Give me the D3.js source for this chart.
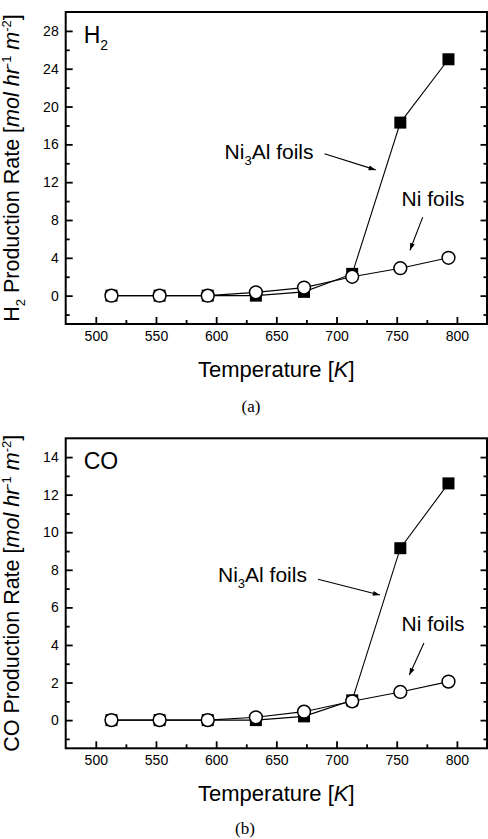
<!DOCTYPE html>
<html>
<head>
<meta charset="utf-8">
<script src="https://cdn.jsdelivr.net/npm/d3@7/dist/d3.min.js"></script>
<style>
	body{margin:0;background:#fff;}
	svg text{font-family:"Liberation Sans",Arial,sans-serif;fill:#000;}
</style>
</head>
<body>
<div id="chart"></div>
<script>
// data
var temps = [513, 553, 593, 633, 673, 713, 753, 793];
var h2Ni3Al = [0, 0, 0, 0, 0.4, 2.3, 18.3, 25.0];
var h2Ni = [0, 0, 0, 0.35, 0.85, 2.0, 2.9, 4.0];
var coNi3Al = [0, 0, 0, 0, 0.2, 1.05, 9.15, 12.6];
var coNi = [0, 0, 0, 0.15, 0.45, 1.0, 1.5, 2.05];

var xTicks = [500, 550, 600, 650, 700, 750, 800];
var xMinor = [525, 575, 625, 675, 725, 775];
var h2Ticks = [0, 4, 8, 12, 16, 20, 24, 28];
var h2Minor = [-2, 2, 6, 10, 14, 18, 22, 26];
var coTicks = [0, 2, 4, 6, 8, 10, 12, 14];
var coMinor = [-1, 1, 3, 5, 7, 9, 11, 13];

var W = 488, H = 839;
var frameL = 65.7, frameR = 487;

var svg = d3.select("#chart").append("svg")
	.attr("width", W).attr("height", H);

svg.append("defs").append("marker")
	.attr("id", "arrow")
	.attr("markerUnits", "userSpaceOnUse")
	.attr("viewBox", "0 0 10 10")
	.attr("refX", 10).attr("refY", 5)
	.attr("markerWidth", 9).attr("markerHeight", 7)
	.attr("orient", "auto")
	.append("path")
	.attr("d", "M0,1.5 L10,5 L0,8.5 Z")
	.attr("fill", "#000");

var panels = [
	{
		top: 12, bottom: 324,
		yDomain: [-3, 30], yTicks: h2Ticks, yMinor: h2Minor,
		ni3al: h2Ni3Al, ni: h2Ni,
		speciesLabel: [["H",""],["2","sub"]],
		caption: "(a)", captionX: 251, captionY: 412,
		// annotation anchors in data units
		ni3alText: [607, 14.4], ni3alArrow: [[690, 15.0], [732.5, 13.3]],
		niText: [754, 9.5], niArrow: [[771.6, 8.3], [761, 4.8]]
	},
	{
		top: 438.3, bottom: 748.3,
		yDomain: [-1.5, 15], yTicks: coTicks, yMinor: coMinor,
		ni3al: coNi3Al, ni: coNi,
		speciesLabel: [["CO",""]],
		caption: "(b)", captionX: 245, captionY: 834,
		ni3alText: [601.5, 7.34], ni3alArrow: [[684.6, 7.5], [736, 6.66]],
		niText: [754, 4.76], niArrow: [[772.6, 4.1], [760.5, 2.4]]
	}
];

function drawPanel(p){
	var x = d3.scaleLinear().domain([475, 825]).range([frameL, frameR]);
	var y = d3.scaleLinear().domain(p.yDomain).range([p.bottom, p.top]);
	var g = svg.append("g");

	function axis(gen, tx, ty, vals, size, labels){
		var a = g.append("g")
			.attr("transform", "translate(" + tx + "," + ty + ")")
			.call(gen.tickValues(vals).tickSize(size).tickPadding(7)
				.tickFormat(labels ? d3.format("d") : ""));
		a.select(".domain").remove();
		a.selectAll("line").attr("stroke", "#000").attr("stroke-width", 1.8);
		a.selectAll("text").style("font-size", "14px").style("font-family", "'Liberation Sans',Arial,sans-serif");
		return a;
	}
	axis(d3.axisBottom(x), 0, p.bottom, xTicks, -7, true);
	axis(d3.axisBottom(x), 0, p.bottom, xMinor, -4, false);
	axis(d3.axisLeft(y), frameL, 0, p.yTicks, -7, true);
	axis(d3.axisLeft(y), frameL, 0, p.yMinor, -4, false);
	axis(d3.axisRight(y), frameR, 0, p.yTicks, -6.5, false);
	axis(d3.axisRight(y), frameR, 0, p.yMinor, -3.5, false);

	g.append("rect")
		.attr("x", frameL).attr("y", p.top)
		.attr("width", frameR - frameL).attr("height", p.bottom - p.top)
		.attr("fill", "none").attr("stroke", "#000").attr("stroke-width", 2);

	var line = d3.line().x(function(d){ return x(d[0]); }).y(function(d){ return y(d[1]); });
	var sq = d3.zip(temps, p.ni3al), ci = d3.zip(temps, p.ni);

	g.append("path").datum(sq).attr("d", line)
		.attr("fill", "none").attr("stroke", "#000").attr("stroke-width", 1.1);
	g.append("path").datum(ci).attr("d", line)
		.attr("fill", "none").attr("stroke", "#000").attr("stroke-width", 1.1);

	g.selectAll("rect.sq").data(sq).enter().append("rect")
		.attr("class", "sq")
		.attr("x", function(d){ return x(d[0]) - 6; })
		.attr("y", function(d){ return y(d[1]) - 6; })
		.attr("width", 12).attr("height", 12)
		.attr("fill", "#000");
	g.selectAll("circle").data(ci).enter().append("circle")
		.attr("cx", function(d){ return x(d[0]); })
		.attr("cy", function(d){ return y(d[1]); })
		.attr("r", 6.4)
		.attr("fill", "#fff").attr("stroke", "#000").attr("stroke-width", 1.5);

	// species tag
	var tag = g.append("text")
		.attr("x", frameL + 18).attr("y", p.top + 31)
		.style("font-size", "23px");
	p.speciesLabel.forEach(function(s){
		if (s[1] == "sub") tag.append("tspan").text(s[0]).attr("dy", 7).style("font-size", "14px");
		else tag.append("tspan").text(s[0]);
	});

	// annotations
	var t1 = g.append("text")
		.attr("x", x(p.ni3alText[0])).attr("y", y(p.ni3alText[1]))
		.style("font-size", "21px");
	t1.append("tspan").text("Ni");
	t1.append("tspan").text("3").attr("dy", 6).style("font-size", "13px");
	t1.append("tspan").text("Al foils").attr("dy", -6);
	g.append("line")
		.attr("x1", x(p.ni3alArrow[0][0])).attr("y1", y(p.ni3alArrow[0][1]))
		.attr("x2", x(p.ni3alArrow[1][0])).attr("y2", y(p.ni3alArrow[1][1]))
		.attr("stroke", "#000").attr("stroke-width", 1.1)
		.attr("marker-end", "url(#arrow)");
	g.append("text")
		.attr("x", x(p.niText[0])).attr("y", y(p.niText[1]))
		.style("font-size", "21px")
		.text("Ni foils");
	g.append("line")
		.attr("x1", x(p.niArrow[0][0])).attr("y1", y(p.niArrow[0][1]))
		.attr("x2", x(p.niArrow[1][0])).attr("y2", y(p.niArrow[1][1]))
		.attr("stroke", "#000").attr("stroke-width", 1.1)
		.attr("marker-end", "url(#arrow)");

	// axis titles
	var xl = g.append("text")
		.attr("x", (frameL + frameR) / 2).attr("y", p.bottom + 52.7)
		.attr("text-anchor", "middle")
		.style("font-size", "22px");
	xl.append("tspan").text("Temperature [");
	xl.append("tspan").text("K").style("font-style", "italic");
	xl.append("tspan").text("]");

	var yl = g.append("text")
		.attr("transform", "translate(18.5," + ((p.top + p.bottom) / 2) + ") rotate(-90)")
		.attr("text-anchor", "middle")
		.style("font-size", "21.5px");
	p.speciesLabel.forEach(function(s){
		if (s[1] == "sub") yl.append("tspan").text(s[0]).attr("dy", 6).style("font-size", "13px");
		else yl.append("tspan").text(s[0]);
	});
	yl.append("tspan").text(" Production Rate [").attr("dy", p.speciesLabel.length > 1 ? -6 : 0);
	yl.append("tspan").text("mol hr").style("font-style", "italic");
	yl.append("tspan").text("-1").attr("dy", -8).style("font-size", "13px");
	yl.append("tspan").text(" m").attr("dy", 8).style("font-style", "italic");
	yl.append("tspan").text("-2").attr("dy", -8).style("font-size", "13px");
	yl.append("tspan").text("]").attr("dy", 8);

	svg.append("text")
		.attr("x", p.captionX).attr("y", p.captionY)
		.attr("text-anchor", "middle")
		.style("font-family", "'Liberation Serif','Times New Roman',serif")
		.style("font-size", "17px")
		.text(p.caption);
}

panels.forEach(drawPanel);
</script>
</body>
</html>
